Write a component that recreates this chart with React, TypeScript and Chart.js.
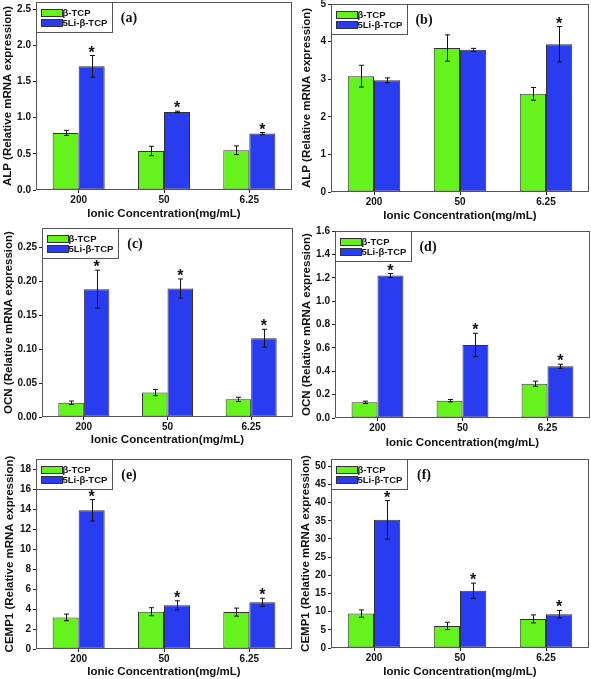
import React, { useEffect, useRef } from 'react';
import { Chart, registerables } from 'chart.js';

Chart.register(...registerables);

// ---------- data ----------
const categories = ['200', '50', '6.25'];
const seriesLabels = ['β-TCP', '5Li-β-TCP'];
const xAxisTitle = 'Ionic Concentration(mg/mL)';

// (a) ALP
const aGreen = [0.79, 0.54, 0.55];
const aGreenErr = [0.035, 0.065, 0.06];
const aBlue = [1.71, 1.08, 0.78];
const aBlueErr = [0.15, 0.01, 0.015];
const aStars = [true, true, true];
const aTicks = [0, 0.5, 1.0, 1.5, 2.0, 2.5];

// (b) ALP
const bGreen = [3.08, 3.83, 2.61];
const bGreenErr = [0.29, 0.35, 0.17];
const bBlue = [2.97, 3.78, 3.93];
const bBlueErr = [0.065, 0.04, 0.47];
const bStars = [false, false, true];
const bTicks = [0, 1, 2, 3, 4, 5];

// (c) OCN
const cGreen = [0.021, 0.036, 0.026];
const cGreenErr = [0.0025, 0.0045, 0.003];
const cBlue = [0.188, 0.189, 0.116];
const cBlueErr = [0.028, 0.014, 0.013];
const cStars = [true, true, true];
const cTicks = [0, 0.05, 0.1, 0.15, 0.2, 0.25];

// (d) OCN
const dGreen = [0.134, 0.148, 0.293];
const dGreenErr = [0.01, 0.01, 0.022];
const dBlue = [1.219, 0.625, 0.443];
const dBlueErr = [0.017, 0.1, 0.017];
const dStars = [true, true, true];
const dTicks = [0, 0.2, 0.4, 0.6, 0.8, 1.0, 1.2, 1.4, 1.6];

// (e) CEMP1
const eGreen = [3.16, 3.73, 3.69];
const eGreenErr = [0.33, 0.4, 0.4];
const eBlue = [13.87, 4.37, 4.67];
const eBlueErr = [1.07, 0.45, 0.4];
const eStars = [true, true, true];
const eTicks = [0, 2, 4, 6, 8, 10, 12, 14, 16, 18];

// (f) CEMP1
const fGreen = [9.48, 6.08, 8.01];
const fGreenErr = [1.0, 1.0, 1.1];
const fBlue = [35.27, 15.75, 9.3];
const fBlueErr = [5.3, 2.1, 1.05];
const fStars = [true, true, true];
const fTicks = [0, 5, 10, 15, 20, 25, 30, 35, 40, 45, 50];

// ---------- styles ----------
const GREEN = '#66f21c';
const BLUE = '#2a3cf0';
const SANS = "'Liberation Sans', Arial, sans-serif";
const SERIF = "'Liberation Serif', 'Times New Roman', serif";

type Panel = {
  label: string;
  yTitle: string;
  green: number[];
  greenErr: number[];
  blue: number[];
  blueErr: number[];
  stars: boolean[];
  ticks: number[];
  max: number;
  decimals: number;
  canvas: { x: number; y: number; w: number; h: number };
  area: { L: number; T: number; R: number; B: number };
  yTitleX: number;
  xTitleOff: number;
};

const panels: Panel[] = [
  {
    label: '(a)', yTitle: 'ALP (Relative mRNA expression)',
    green: aGreen, greenErr: aGreenErr, blue: aBlue, blueErr: aBlueErr, stars: aStars,
    ticks: aTicks, max: 2.6, decimals: 1,
    canvas: { x: 0, y: 0, w: 295, h: 225 }, area: { L: 36, T: 2, R: 292, B: 190 },
    yTitleX: 8, xTitleOff: 23.7,
  },
  {
    label: '(b)', yTitle: 'ALP (Relative mRNA expression)',
    green: bGreen, greenErr: bGreenErr, blue: bBlue, blueErr: bBlueErr, stars: bStars,
    ticks: bTicks, max: 5, decimals: 0,
    canvas: { x: 295, y: 0, w: 296, h: 225 }, area: { L: 331, T: 4, R: 589, B: 192 },
    yTitleX: 306.5, xTitleOff: 24,
  },
  {
    label: '(c)', yTitle: 'OCN (Relative mRNA expression)',
    green: cGreen, greenErr: cGreenErr, blue: cBlue, blueErr: cBlueErr, stars: cStars,
    ticks: cTicks, max: 0.278, decimals: 2,
    canvas: { x: 0, y: 225, w: 295, h: 225 }, area: { L: 42, T: 228, R: 293, B: 417 },
    yTitleX: 8.5, xTitleOff: 23,
  },
  {
    label: '(d)', yTitle: 'OCN (Relative mRNA expression)',
    green: dGreen, greenErr: dGreenErr, blue: dBlue, blueErr: dBlueErr, stars: dStars,
    ticks: dTicks, max: 1.6, decimals: 1,
    canvas: { x: 295, y: 225, w: 296, h: 225 }, area: { L: 335, T: 231, R: 590, B: 418 },
    yTitleX: 306.5, xTitleOff: 25,
  },
  {
    label: '(e)', yTitle: 'CEMP1 (Relative mRNA expression)',
    green: eGreen, greenErr: eGreenErr, blue: eBlue, blueErr: eBlueErr, stars: eStars,
    ticks: eTicks, max: 19, decimals: 0,
    canvas: { x: 0, y: 450, w: 295, h: 229 }, area: { L: 36, T: 459, R: 292, B: 649 },
    yTitleX: 9.5, xTitleOff: 23,
  },
  {
    label: '(f)', yTitle: 'CEMP1 (Relative mRNA expression)',
    green: fGreen, greenErr: fGreenErr, blue: fBlue, blueErr: fBlueErr, stars: fStars,
    ticks: fTicks, max: 52, decimals: 0,
    canvas: { x: 295, y: 450, w: 296, h: 229 }, area: { L: 331, T: 459, R: 589, B: 648 },
    yTitleX: 305.5, xTitleOff: 23.7,
  },
];

function makePlugin(p: Panel) {
  return {
    id: 'panelDecor',
    afterDatasetsDraw(chart: any) {
      const ctx = chart.ctx;
      const ys = chart.scales.y;
      const errs = [p.greenErr, p.blueErr];
      chart.data.datasets.forEach((ds: any, di: number) => {
        const meta = chart.getDatasetMeta(di);
        meta.data.forEach((el: any, j: number) => {
          const v = ds.data[j];
          const e = errs[di][j];
          const yt = ys.getPixelForValue(v + e);
          const yb = ys.getPixelForValue(Math.max(0, v - e));
          const x = Math.round(el.x) + 0.5;
          ctx.save();
          ctx.strokeStyle = '#111';
          ctx.lineWidth = 1;
          ctx.beginPath();
          ctx.moveTo(x, yt);
          ctx.lineTo(x, yb);
          ctx.moveTo(x - 2.5, yt);
          ctx.lineTo(x + 2.5, yt);
          ctx.moveTo(x - 2.5, yb);
          ctx.lineTo(x + 2.5, yb);
          ctx.stroke();
          if (di === 1 && p.stars[j]) {
            ctx.fillStyle = '#111';
            ctx.font = `bold 16px ${SANS}`;
            ctx.textAlign = 'center';
            ctx.textBaseline = 'alphabetic';
            ctx.fillText('*', el.x, yt + 2);
          }
          ctx.restore();
        });
      });
    },
    afterDraw(chart: any) {
      const ctx = chart.ctx;
      const a = chart.chartArea;
      const L = Math.round(a.left) + 0.5;
      const T = Math.round(a.top) + 0.5;
      const R = Math.round(a.right) - 0.5;
      const B = Math.round(a.bottom) - 0.5;
      ctx.save();
      // frame
      ctx.strokeStyle = '#555';
      ctx.lineWidth = 1;
      ctx.strokeRect(L, T, R - L, B - T);
      // legend box
      ctx.fillStyle = '#fff';
      ctx.fillRect(L, T, 76, 30);
      ctx.strokeRect(L, T, 76, 30);
      const colors = [GREEN, BLUE];
      chart.data.datasets.forEach((ds: any, i: number) => {
        const sy = T + 7 + i * 10;
        ctx.fillStyle = colors[i];
        ctx.fillRect(L + 5, sy, 21, 7);
        ctx.strokeStyle = '#333';
        ctx.strokeRect(L + 5, sy, 21, 7);
        ctx.fillStyle = '#111';
        ctx.font = `bold 9.5px ${SANS}`;
        ctx.textAlign = 'left';
        ctx.textBaseline = 'middle';
        ctx.fillText(ds.label, L + 26, sy + 4);
      });
      // panel label
      ctx.fillStyle = '#111';
      ctx.font = `bold 14px ${SERIF}`;
      ctx.textAlign = 'center';
      ctx.textBaseline = 'middle';
      ctx.fillText(p.label, a.left + 93, a.top + 16);
      ctx.restore();
    },
  };
}

function PanelChart({ p }: { p: Panel }) {
  const ref = useRef<HTMLCanvasElement>(null);
  useEffect(() => {
    if (!ref.current) return;
    const { canvas, area } = p;
    const yWidth = area.L - canvas.x;
    const xHeight = canvas.y + canvas.h - area.B;
    const titleLH = 11.5 * 1.2;
    const xTitlePadBottom = Math.max(0, xHeight - p.xTitleOff - titleLH / 2);
    const yTitlePadTop = Math.max(0, p.yTitleX - canvas.x - titleLH / 2);
    const chart = new Chart(ref.current, {
      type: 'bar',
      data: {
        labels: categories,
        datasets: [
          {
            label: seriesLabels[0],
            data: p.green,
            backgroundColor: GREEN,
            borderColor: '#333',
            borderWidth: 1,
            borderSkipped: false,
            categoryPercentage: 0.61,
            barPercentage: 1,
          },
          {
            label: seriesLabels[1],
            data: p.blue,
            backgroundColor: BLUE,
            borderColor: '#333',
            borderWidth: 1,
            borderSkipped: false,
            categoryPercentage: 0.61,
            barPercentage: 1,
          },
        ],
      },
      options: {
        responsive: false,
        animation: false,
        devicePixelRatio: 1,
        layout: {
          padding: {
            top: area.T - canvas.y,
            right: canvas.x + canvas.w - area.R,
            left: 0,
            bottom: 0,
          },
        },
        plugins: {
          legend: { display: false },
          tooltip: { enabled: false },
        },
        scales: {
          x: {
            grid: {
              display: true,
              drawOnChartArea: false,
              drawTicks: true,
              tickLength: 3,
              tickColor: '#222',
              offset: false,
            },
            border: { display: false },
            ticks: {
              color: '#111',
              padding: 1,
              font: { family: SANS, size: 10, weight: 'bold' },
              maxRotation: 0,
              autoSkip: false,
            },
            title: {
              display: true,
              text: xAxisTitle,
              color: '#111',
              font: { family: SANS, size: 11.5, weight: 'bold' },
              padding: { top: 0, bottom: xTitlePadBottom },
            },
            afterFit: (s: any) => {
              s.height = xHeight;
              s.paddingLeft = 0;
              s.paddingRight = 0;
            },
          },
          y: {
            min: 0,
            max: p.max,
            grid: {
              display: true,
              drawOnChartArea: false,
              drawTicks: true,
              tickLength: 3,
              tickColor: '#222',
            },
            border: { display: false },
            ticks: {
              color: '#111',
              padding: 2,
              autoSkip: false,
              font: { family: SANS, size: 10, weight: 'bold' },
              callback: (v: any) => Number(v).toFixed(p.decimals),
            },
            afterBuildTicks: (s: any) => {
              s.ticks = p.ticks.map((v) => ({ value: v }));
            },
            title: {
              display: true,
              text: p.yTitle,
              color: '#111',
              font: { family: SANS, size: 11.5, weight: 'bold' },
              padding: { top: yTitlePadTop, bottom: 0 },
            },
            afterFit: (s: any) => {
              s.width = yWidth;
              s.paddingTop = 0;
              s.paddingBottom = 0;
            },
          },
        },
      },
      plugins: [makePlugin(p)],
    } as any);
    return () => chart.destroy();
  }, [p]);
  return (
    <canvas
      ref={ref}
      width={p.canvas.w}
      height={p.canvas.h}
      style={{
        position: 'absolute',
        left: p.canvas.x,
        top: p.canvas.y,
        width: p.canvas.w,
        height: p.canvas.h,
      }}
    />
  );
}

export default function App() {
  return (
    <div
      style={{
        position: 'absolute',
        left: 0,
        top: 0,
        width: 591,
        height: 679,
        background: '#fff',
        overflow: 'hidden',
      }}
    >
      {panels.map((p) => (
        <PanelChart key={p.label} p={p} />
      ))}
    </div>
  );
}
